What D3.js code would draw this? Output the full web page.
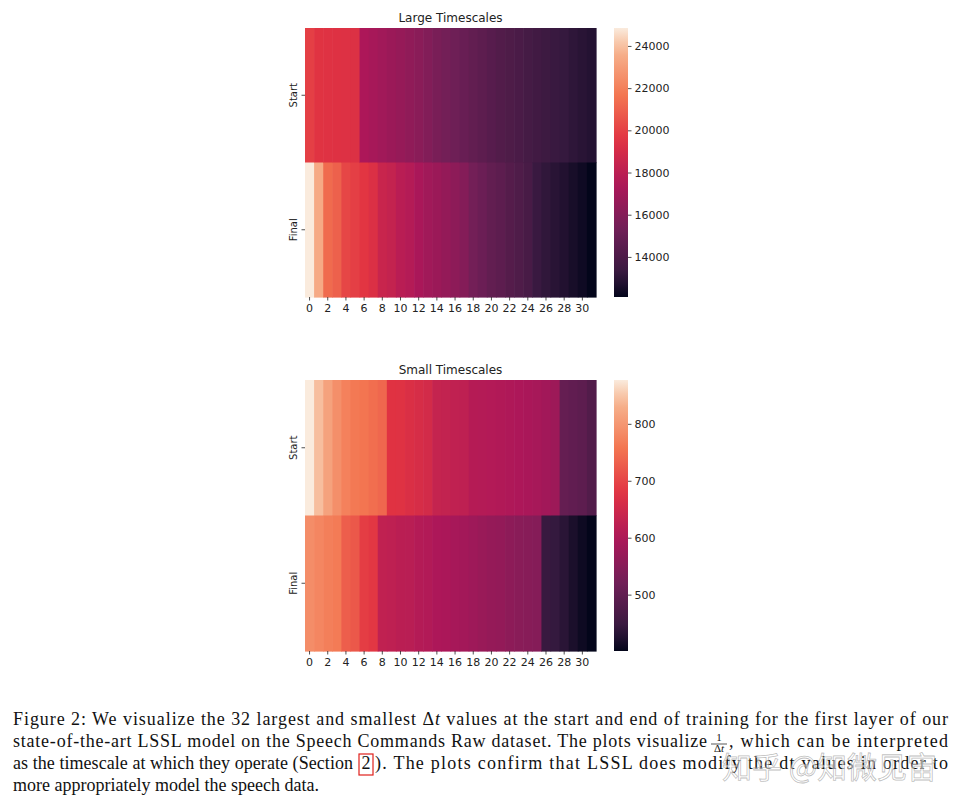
<!DOCTYPE html>
<html>
<head>
<meta charset="utf-8">
<script src="https://cdn.jsdelivr.net/npm/d3@7"></script>
<style>
body{margin:0;background:#fff;}
svg text{font-family:"DejaVu Sans",sans-serif;fill:#222;}
.caption text{font-family:"Liberation Serif","DejaVu Serif",serif;fill:#111;}
</style>
</head>
<body>
<div id="chart-area"></div>
<script>
// rows and columns of both heatmaps
const rows=['Start','Final'];
const columns=d3.range(32);
const xTicks=[0,2,4,6,8,10,12,14,16,18,20,22,24,26,28,30];

// 1/dt values
const largeStart=[19900,19500,19450,19400,19380,19350,17400,17200,17000,16800,16600,16400,16200,15900,15600,15400,
                  15200,15000,14800,14600,14400,14200,14050,13900,13750,13600,13450,13300,13150,13000,12900,12800];
const largeFinal=[24850,23450,21300,21000,20130,19900,19600,19300,18500,18300,17900,17700,17300,17000,16800,16550,
                  16300,16000,15400,15100,14800,14600,14300,14100,13850,13300,13050,12900,12750,12550,12350,12100];
const smallStart=[877,845,815,790,772,762,757,748,740,677,675,668,662,655,635,632,
                  628,625,612,610,608,606,603,600,596,592,585,578,505,500,495,480];
const smallFinal=[787,778,770,765,730,722,690,683,628,625,620,618,610,607,600,597,
                  592,586,580,574,568,565,558,553,550,547,444,440,432,420,410,401];

const largeTicks=[14000,16000,18000,20000,22000,24000];
const smallTicks=[500,600,700,800];

// seaborn "rocket" colormap, approximated with a few stops
const rocketPos=[0,0.083,0.25,0.417,0.583,0.75,0.917,1];
const rocketColors=['#03051a','#35193e','#701f57','#ad1759','#e13342','#f37651','#f6b48f','#faebdd'];
const rocket=d3.scaleLinear().domain(rocketPos).range(rocketColors).interpolate(d3.interpolateRgb);

const svg=d3.select('#chart-area').append('svg')
    .attr('width',967)
    .attr('height',795);

const defs=svg.append('defs');

function heatmap(id,title,start,final,ticks,top,h){
    const left=305, w=291;
    const g=svg.append('g').attr('transform','translate('+left+','+top+')');

    const x=d3.scaleBand().domain(columns).range([0,w]);
    const y=d3.scaleBand().domain(rows).range([0,h]);
    const all=start.concat(final);
    const ext=d3.extent(all);
    const color=v=>rocket((v-ext[0])/(ext[1]-ext[0]));

    const cells=[];
    columns.forEach(c=>{
        cells.push({row:'Start',col:c,v:start[c]});
        cells.push({row:'Final',col:c,v:final[c]});
    });

    g.selectAll('rect.cell')
        .data(cells)
        .enter().append('rect')
        .attr('class','cell')
        .attr('x',d=>x(d.col))
        .attr('y',d=>y(d.row))
        .attr('width',x.bandwidth()+0.6)
        .attr('height',y.bandwidth()+0.6)
        .attr('fill',d=>color(d.v));

    // x axis
    const xAxis=g.append('g')
        .attr('transform','translate(0,'+h+')')
        .call(d3.axisBottom(x).tickValues(xTicks).tickSize(3.5).tickPadding(4));
    xAxis.select('.domain').remove();
    xAxis.selectAll('text').attr('font-size','11px').style('font-family','DejaVu Sans');
    xAxis.selectAll('line').attr('stroke','#222').attr('stroke-width',0.8);

    // y axis (rotated labels)
    const yAxis=g.append('g')
        .call(d3.axisLeft(y).tickSize(3.5).tickFormat(''));
    yAxis.select('.domain').remove();
    yAxis.selectAll('line').attr('stroke','#222').attr('stroke-width',0.8);
    g.selectAll('text.ylab')
        .data(rows)
        .enter().append('text')
        .attr('class','ylab')
        .attr('transform',d=>'translate(-8,'+(y(d)+y.bandwidth()/2)+') rotate(-90)')
        .attr('text-anchor','middle')
        .attr('font-size','10px')
        .text(d=>d);

    // title
    g.append('text')
        .attr('x',w/2)
        .attr('y',-6)
        .attr('text-anchor','middle')
        .attr('font-size','12px')
        .text(title);

    // colorbar
    const cbX=309, cbW=14;
    const cy=d3.scaleLinear().domain(ext).range([h,0]);
    const grad=defs.append('linearGradient')
        .attr('id',id)
        .attr('x1',0).attr('y1',1).attr('x2',0).attr('y2',0);
    d3.range(0,1.0001,0.05).forEach(t=>{
        grad.append('stop').attr('offset',t).attr('stop-color',rocket(t));
    });
    const cb=g.append('g').attr('transform','translate('+cbX+',0)');
    cb.append('rect')
        .attr('width',cbW)
        .attr('height',h)
        .attr('fill','url(#'+id+')');
    const cAxis=cb.append('g')
        .attr('transform','translate('+cbW+',0)')
        .call(d3.axisRight(cy).tickValues(ticks).tickSize(3.5).tickPadding(3).tickFormat(d3.format('d')));
    cAxis.select('.domain').remove();
    cAxis.selectAll('text').attr('font-size','11px').style('font-family','DejaVu Sans');
    cAxis.selectAll('line').attr('stroke','#222').attr('stroke-width',0.8);
}

heatmap('gradLarge','Large Timescales',largeStart,largeFinal,largeTicks,28,269);
heatmap('gradSmall','Small Timescales',smallStart,smallFinal,smallTicks,380,271);

// caption
const cap=svg.append('g').attr('class','caption').attr('font-size','18px');

const l1=cap.append('text').attr('x',13).attr('y',725)
    .attr('textLength',935).attr('lengthAdjust','spacing');
l1.append('tspan').text('Figure 2: We visualize the 32 largest and smallest Δ');
l1.append('tspan').attr('font-style','italic').text('t');
l1.append('tspan').text(' values at the start and end of training for the first layer of our');

cap.append('text').attr('x',13).attr('y',747)
    .attr('textLength',694).attr('lengthAdjust','spacing')
    .text('state-of-the-art LSSL model on the Speech Commands Raw dataset. The plots visualize');
// fraction 1/Δt
cap.append('text').attr('x',719).attr('y',741).attr('text-anchor','middle').attr('font-size','11px').text('1');
cap.append('line').attr('x1',711).attr('x2',727).attr('y1',744).attr('y2',744).attr('stroke','#111').attr('stroke-width',0.7);
const den=cap.append('text').attr('x',719).attr('y',752).attr('text-anchor','middle').attr('font-size','11px');
den.append('tspan').text('Δ');
den.append('tspan').attr('font-style','italic').text('t');
cap.append('text').attr('x',729).attr('y',747)
    .attr('textLength',219).attr('lengthAdjust','spacing')
    .text(', which can be interpreted');

cap.append('text').attr('x',13).attr('y',769)
    .attr('textLength',340).attr('lengthAdjust','spacing')
    .text('as the timescale at which they operate (Section');
cap.append('rect').attr('x',359).attr('y',754).attr('width',14).attr('height',21)
    .attr('fill','none').attr('stroke','#e0201c').attr('stroke-width',1.2);
cap.append('text').attr('x',366).attr('y',769).attr('text-anchor','middle').text('2');
cap.append('text').attr('x',375).attr('y',769)
    .attr('textLength',573).attr('lengthAdjust','spacing')
    .text('). The plots confirm that LSSL does modify the dt values in order to');

cap.append('text').attr('x',13).attr('y',791)
    .text('more appropriately model the speech data.');

// watermark
svg.append('text')
    .attr('x',722).attr('y',778)
    .attr('font-size','30px')
    .style('font-family','"Noto Sans CJK SC",sans-serif')
    .style('fill','rgba(255,255,255,0.55)')
    .attr('stroke','rgba(110,110,110,0.45)')
    .attr('stroke-width',0.8)
    .text('知乎 @知微见宙');
</script>
</body>
</html>
